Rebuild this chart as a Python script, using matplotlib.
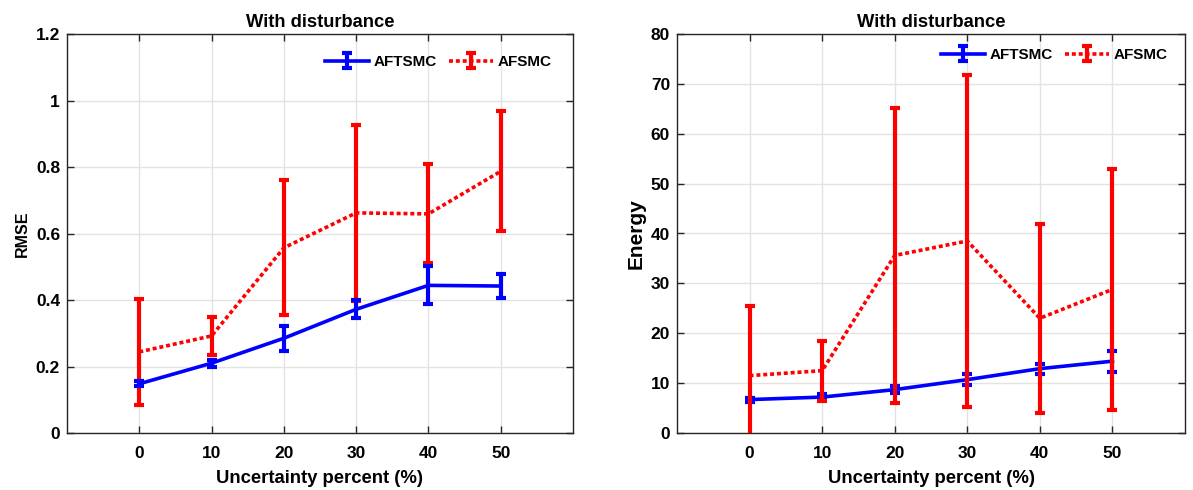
import matplotlib
matplotlib.use("Agg")
import matplotlib.pyplot as plt
from matplotlib.ticker import FuncFormatter

### DATA ###

uncertainty = [0, 10, 20, 30, 40, 50]

rmse_aftsmc = [0.148, 0.21, 0.285, 0.372, 0.444, 0.442]
rmse_aftsmc_err = [0.007, 0.011, 0.038, 0.027, 0.057, 0.036]
rmse_afsmc = [0.244, 0.292, 0.557, 0.662, 0.659, 0.787]
rmse_afsmc_err = [0.16, 0.057, 0.203, 0.264, 0.149, 0.18]

energy_aftsmc = [6.7, 7.2, 8.7, 10.7, 12.9, 14.4]
energy_aftsmc_err = [0.4, 0.6, 0.7, 1.1, 1.0, 2.1]
energy_afsmc = [11.5, 12.5, 35.6, 38.5, 23.0, 28.8]
energy_afsmc_err = [13.9, 6.0, 29.5, 33.2, 19.0, 24.2]

### STYLE ###

plt.rcParams["font.family"] = ["Liberation Sans", "DejaVu Sans"]
plt.rcParams["font.weight"] = "bold"
plt.rcParams["axes.labelweight"] = "bold"
plt.rcParams["axes.titleweight"] = "bold"

dark = "#262626"

def style_axes(ax, ylim, yticks):
    ax.set_xlim(-10, 60)
    ax.set_ylim(*ylim)
    ax.set_xticks(uncertainty)
    ax.set_yticks(yticks)
    ax.yaxis.set_major_formatter(FuncFormatter(lambda v, p: f"{v:g}"))
    ax.tick_params(direction="in", top=True, right=True, length=5, width=1,
                   colors=dark, labelcolor="black", labelsize=12.5)
    ax.tick_params(axis="x", pad=9)
    ax.tick_params(axis="y", pad=5)
    for s in ax.spines.values():
        s.set_color(dark)
        s.set_linewidth(1)
    ax.grid(True, color="#e3e3e3", linewidth=1)
    ax.set_axisbelow(True)
    ax.set_title("With disturbance", fontsize=13.2, pad=5)
    ax.set_xlabel("Uncertainty percent (%)", fontsize=13.3, labelpad=7)

def draw(ax, blue, blue_err, red, red_err, red_on_top):
    zb, zr = (3, 4) if red_on_top else (4, 3)
    ax.errorbar(uncertainty, blue, yerr=blue_err, color="#0000ff", linewidth=2.6,
                elinewidth=3, capsize=3.6, capthick=3, label="AFTSMC", zorder=zb)
    ax.errorbar(uncertainty, red, yerr=red_err, color="#ff0000", linewidth=2.6,
                linestyle=(0, (1.1, 0.8)), elinewidth=3, capsize=3.6, capthick=3,
                label="AFSMC", zorder=zr)

def add_legend(ax, anchor):
    ax.legend(loc="center right", ncol=2, frameon=False, fontsize=11, handlelength=2.9,
              columnspacing=0.8, handletextpad=0.27, bbox_to_anchor=anchor)

### FIGURE ###

fig = plt.figure(figsize=(11.93, 4.9), dpi=100)
W, H = 1193, 490

ax1 = fig.add_axes([67 / W, (H - 433) / H, (573 - 67) / W, (433 - 34) / H])
draw(ax1, rmse_aftsmc, rmse_aftsmc_err, rmse_afsmc, rmse_afsmc_err, False)
style_axes(ax1, (0, 1.2), [0, 0.2, 0.4, 0.6, 0.8, 1.0, 1.2])
ax1.set_ylabel("RMSE", fontsize=11.5, labelpad=4.5)
add_legend(ax1, (0.984, 0.93))

ax2 = fig.add_axes([677 / W, (H - 433) / H, (1185 - 677) / W, (433 - 34) / H])
draw(ax2, energy_aftsmc, energy_aftsmc_err, energy_afsmc, energy_afsmc_err, True)
style_axes(ax2, (0, 80), list(range(0, 81, 10)))
ax2.set_ylabel("Energy", fontsize=15, labelpad=3.5)
add_legend(ax2, (0.992, 0.947))

fig.savefig("out.png", dpi=100)
